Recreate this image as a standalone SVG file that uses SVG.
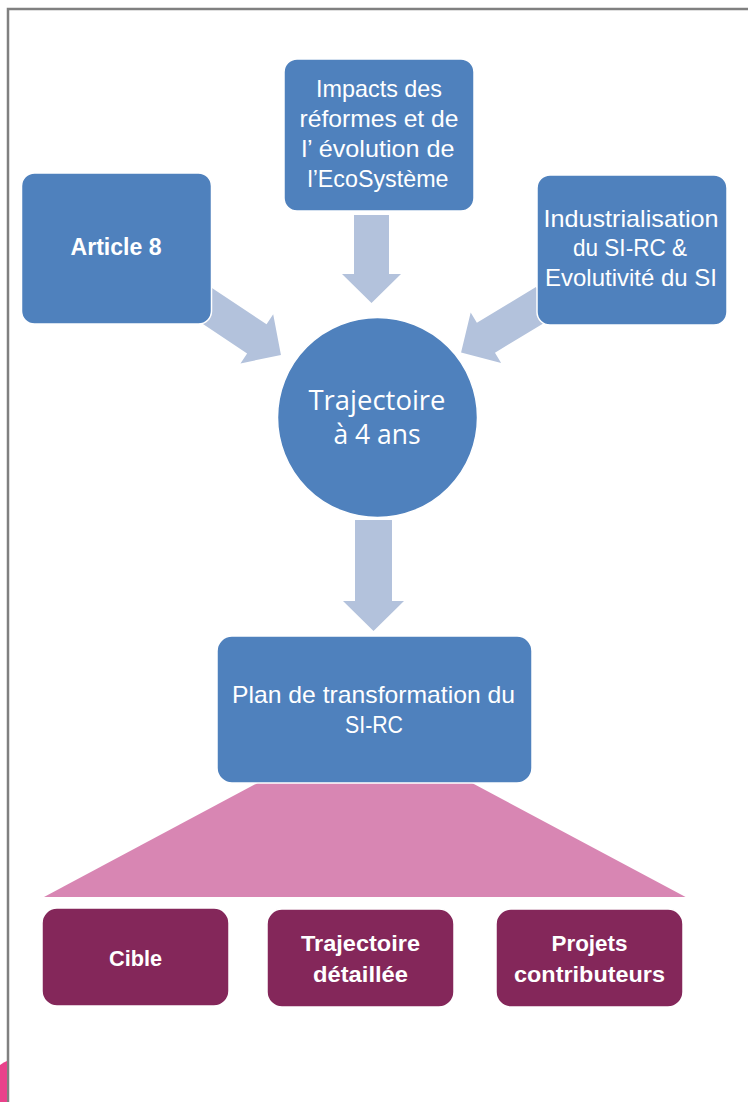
<svg xmlns="http://www.w3.org/2000/svg" width="748" height="1102" viewBox="0 0 748 1102">
<style>
.bg{fill:#ffffff}
.frame{fill:none;stroke:#808080;stroke-width:2.5}
.box{fill:#4F81BD;stroke:#ffffff;stroke-width:1.5}
.pbox{fill:#84275A;stroke:#ffffff;stroke-width:1.5}
.arrow{fill:#B3C2DC}
.fan{fill:#D886B3}
.t{font-family:"Liberation Sans",Arial,sans-serif;font-size:24px;fill:#ffffff;text-anchor:middle}
.tb{font-family:"Liberation Sans",Arial,sans-serif;font-size:22.5px;font-weight:bold;fill:#ffffff;text-anchor:middle}
.tc{font-family:"Open Sans","Liberation Sans",sans-serif;font-size:27.5px;fill:#ffffff;text-anchor:middle}
</style>
<defs>
<polygon id="arr" points="0,-17.5 68.3,-17.5 68.3,-29.5 97.3,0 68.3,29.5 68.3,17.5 0,17.5"/>
</defs>
<rect class="bg" x="0" y="0" width="748" height="1102"/>
<path class="frame" d="M8,1102 V9 H748"/>
<path d="M0,1065 Q4,1062 7,1061 V1102 H0 Z" fill="#E9428B"/>

<g id="connectors">
  <use href="#arr" class="arrow" transform="translate(200,301) rotate(33.7)"/>
  <polygon class="arrow" points="0,-17.5 69,-17.5 69,-29.5 98,0 69,29.5 69,17.5 0,17.5" transform="translate(545,302) rotate(148.9)"/>
  <polygon class="arrow" points="354,215 389,215 389,274 401,274 371.5,303 342,274 354,274"/>
  <polygon class="arrow" points="355,520 392,520 392,601 404,601 373.5,631 343,601 355,601"/>
</g>

<g id="fan">
  <polygon class="fan" points="272.6,775 457,775 685.6,897 44,897"/>
</g>

<g id="impacts">
  <rect class="box" x="284" y="59" width="190" height="152" rx="13"/>
  <text class="t" x="379" y="97" textLength="126" lengthAdjust="spacingAndGlyphs">Impacts des</text>
  <text class="t" x="379" y="127" textLength="159" lengthAdjust="spacingAndGlyphs">réformes et de</text>
  <text class="t" x="378" y="157" textLength="153" lengthAdjust="spacingAndGlyphs">l’ évolution de</text>
  <text class="t" x="378" y="187" textLength="141" lengthAdjust="spacingAndGlyphs">l’EcoSystème</text>
</g>

<g id="article8">
  <rect class="box" x="21.5" y="173" width="190" height="151" rx="13"/>
  <text class="tb" x="116" y="255" style="font-size:23px" textLength="91" lengthAdjust="spacingAndGlyphs">Article 8</text>
</g>

<g id="industrialisation">
  <rect class="box" x="537" y="175" width="190" height="150" rx="13"/>
  <text class="t" x="631" y="227" textLength="175" lengthAdjust="spacingAndGlyphs">Industrialisation</text>
  <text class="t" x="630" y="256" textLength="114" lengthAdjust="spacingAndGlyphs">du SI-RC &amp;</text>
  <text class="t" x="631" y="286" textLength="172" lengthAdjust="spacingAndGlyphs">Evolutivité du SI</text>
</g>

<g id="trajectoire">
  <circle class="box" cx="377.5" cy="417.5" r="100"/>
  <text class="tc" x="377" y="410" textLength="137" lengthAdjust="spacingAndGlyphs">Trajectoire</text>
  <text class="tc" x="377" y="444" textLength="87" lengthAdjust="spacingAndGlyphs">à 4 ans</text>
</g>

<g id="plan">
  <rect class="box" x="217" y="636" width="315" height="147" rx="15"/>
  <text class="t" x="373.5" y="703" textLength="283" lengthAdjust="spacingAndGlyphs">Plan de transformation du</text>
  <text class="t" x="374" y="733" textLength="58" lengthAdjust="spacingAndGlyphs">SI-RC</text>
</g>

<g id="cible">
  <rect class="pbox" x="42" y="908" width="187" height="98" rx="15"/>
  <text class="tb" x="135.5" y="966" textLength="53" lengthAdjust="spacingAndGlyphs">Cible</text>
</g>

<g id="trajectoire-detaillee">
  <rect class="pbox" x="267" y="909" width="187" height="98" rx="15"/>
  <text class="tb" x="360.5" y="951" textLength="119" lengthAdjust="spacingAndGlyphs">Trajectoire</text>
  <text class="tb" x="360.5" y="982" textLength="95" lengthAdjust="spacingAndGlyphs">détaillée</text>
</g>

<g id="projets">
  <rect class="pbox" x="496" y="909" width="187" height="98" rx="15"/>
  <text class="tb" x="589.5" y="951" textLength="76" lengthAdjust="spacingAndGlyphs">Projets</text>
  <text class="tb" x="589.5" y="982" textLength="151" lengthAdjust="spacingAndGlyphs">contributeurs</text>
</g>
</svg>
